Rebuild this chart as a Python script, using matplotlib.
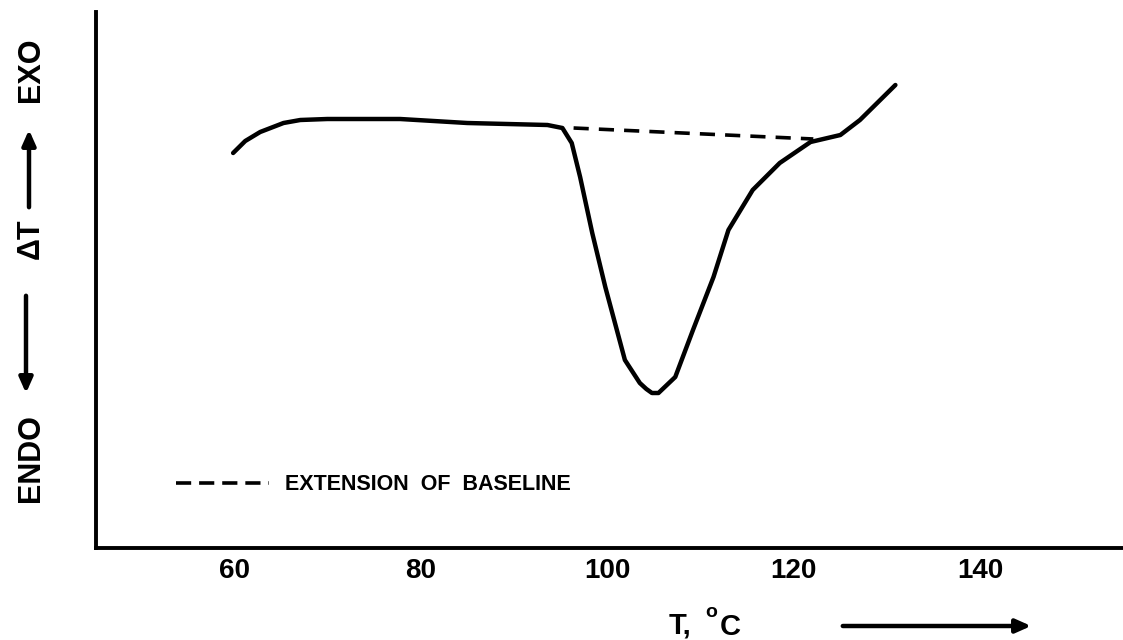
import matplotlib
matplotlib.use('Agg')
import matplotlib.pyplot as plt

# DTA trace, temperature (deg C) vs delta T (arbitrary units)
temperature = [59.9, 61.2, 62.8, 65.3, 67.1, 70.0, 77.8, 85.0, 93.6, 95.2,
               96.2, 97.1, 98.4, 99.8, 101.9, 103.5, 104.2, 104.8, 105.5, 107.3,
               109.2, 111.4, 113.0, 115.6, 118.5, 121.8, 125.0, 127.1, 130.9]
delta_t = [39.5, 40.7, 41.6, 42.5, 42.8, 42.9, 42.9, 42.5, 42.3, 42.0,
           40.5, 37.1, 31.5, 26.1, 18.8, 16.5, 15.9, 15.5, 15.5, 17.1,
           21.8, 27.1, 31.8, 35.8, 38.5, 40.6, 41.3, 42.8, 46.3]

# extension of baseline
base_t = [96.4, 122.1]
base_dt = [42.0, 40.9]

xticks = [60, 80, 100, 120, 140]

W, H = 1123, 640
FONT = "Liberation Sans"

def fx(px):
    return px / W

def fy(py):
    return 1 - py / H

fig = plt.figure(figsize=(W / 100, H / 100), dpi=100)
ax = fig.add_axes([fx(96), fy(548), fx(1123) - fx(96), fy(12) - fy(548)])

ax.plot(temperature, delta_t, color="black", lw=3.2, solid_joinstyle="round",
        solid_capstyle="round")
ax.plot(base_t, base_dt, color="black", lw=2.6, dashes=(4.2, 2.8))

ax.set_xlim(45.2, 155.3)
ax.set_ylim(0, 53.6)
ax.spines["top"].set_visible(False)
ax.spines["right"].set_visible(False)
for s in ["left", "bottom"]:
    ax.spines[s].set_linewidth(2.8)
ax.set_xticks(xticks)
ax.set_xticklabels([str(t) for t in xticks], fontsize=20, fontweight="bold",
                   family=FONT)
ax.set_yticks([])
ax.tick_params(axis="x", length=0, pad=7)

# legend drawn by hand
ax.plot([0.078, 0.168], [0.1215, 0.1215], transform=ax.transAxes, color="black",
        lw=2.6, dashes=(4.2, 2.2))
fig.text(fx(285), fy(484), "EXTENSION  OF  BASELINE", fontsize=15.5,
         fontweight="bold", family=FONT, va="center", ha="left")

# x axis label with arrow
fig.text(fx(669), fy(633), "T,", fontsize=21, fontweight="bold", family=FONT,
         va="baseline", ha="left")
fig.text(fx(705), fy(617), "o", fontsize=14, fontweight="bold", family=FONT,
         va="baseline", ha="left")
fig.text(fx(720), fy(635), "C", fontsize=21, fontweight="bold", family=FONT,
         va="baseline", ha="left")
fig.add_artist(matplotlib.patches.FancyArrowPatch(
    (fx(840), fy(626)), (fx(1034), fy(626)), transform=fig.transFigure,
    arrowstyle="-|>,head_length=9,head_width=4", lw=3.2, color="black",
    mutation_scale=1))

# y axis label: ENDO <-- delta T --> EXO
ylab = dict(fontsize=22, fontweight="bold", family=FONT, rotation=90,
            ha="center", va="center")
fig.text(fx(31), fy(70), "EXO", **ylab)
fig.text(fx(31), fy(239), "\u0394T", **ylab)
fig.text(fx(31), fy(458), "ENDO", **ylab)
fig.add_artist(matplotlib.patches.FancyArrowPatch(
    (fx(29), fy(210)), (fx(29), fy(127)), transform=fig.transFigure,
    arrowstyle="-|>,head_length=9,head_width=4", lw=3.2, color="black",
    mutation_scale=1))
fig.add_artist(matplotlib.patches.FancyArrowPatch(
    (fx(26), fy(293)), (fx(26), fy(396)), transform=fig.transFigure,
    arrowstyle="-|>,head_length=9,head_width=4", lw=3.2, color="black",
    mutation_scale=1))

fig.savefig("out.png", dpi=100)
plt.close()
